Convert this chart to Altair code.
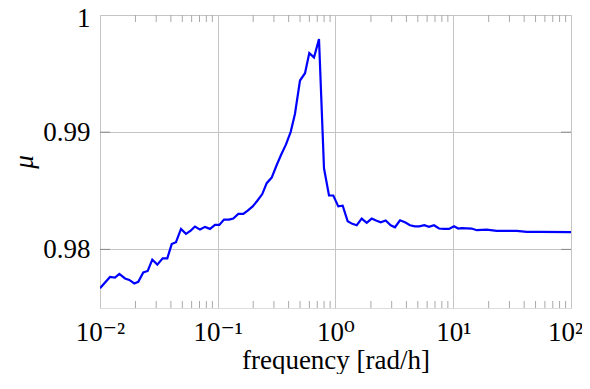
import altair as alt
import pandas as pd

# frequency [rad/h] and mu values
freq = [0.01000, 0.01216, 0.01341, 0.01459, 0.01631, 0.01774, 0.01955, 0.02114, 0.02331, 0.02542,
        0.02780, 0.03066, 0.03407, 0.03729, 0.04064, 0.04419, 0.04874, 0.05375, 0.05892, 0.06408,
        0.07067, 0.07793, 0.08594, 0.09476, 0.1031, 0.1130, 0.1246, 0.1355, 0.1495, 0.1648,
        0.1796, 0.1980, 0.2168, 0.2389, 0.2604, 0.2872, 0.3167, 0.3445, 0.3799, 0.4164,
        0.4529, 0.4994, 0.5508, 0.5990, 0.6568, 0.7242, 0.7986, 0.8806, 0.9579, 1.056,
        1.151, 1.269, 1.389, 1.514, 1.669, 1.841, 2.029, 2.208, 2.421, 2.669,
        2.943, 3.201, 3.530, 3.893, 4.292, 4.733, 5.149, 5.677, 6.225, 6.864,
        7.568, 8.346, 9.203, 10.15, 11.04, 11.80, 14.35, 15.82, 19.24, 23.39,
        30.34, 34.58, 42.06, 54.55, 98.06, 100.0]
mu = [0.97669, 0.97765, 0.97760, 0.97791, 0.97752, 0.97740, 0.97709, 0.97723, 0.97803, 0.97816,
      0.97913, 0.97870, 0.97924, 0.97924, 0.98045, 0.98062, 0.98175, 0.98133, 0.98161, 0.98195,
      0.98169, 0.98192, 0.98175, 0.98209, 0.98209, 0.98254, 0.98254, 0.98263, 0.98303, 0.98303,
      0.98331, 0.98367, 0.98415, 0.98472, 0.98565, 0.98613, 0.98720, 0.98805, 0.98896, 0.99003,
      0.99158, 0.99441, 0.99503, 0.99675, 0.99638, 0.99794, 0.98692, 0.98460, 0.98460, 0.98367,
      0.98373, 0.98240, 0.98218, 0.98206, 0.98263, 0.98226, 0.98263, 0.98246, 0.98231, 0.98246,
      0.98206, 0.98189, 0.98248, 0.98231, 0.98206, 0.98197, 0.98197, 0.98206, 0.98192, 0.98206,
      0.98178, 0.98175, 0.98175, 0.98197, 0.98178, 0.98181, 0.98178, 0.98164, 0.98169, 0.98158,
      0.98158, 0.98158, 0.98150, 0.98150, 0.98147, 0.98147]

x_tick_values = [0.01, 0.1, 1, 10, 100]
x_tick_labels = ["10⁻²", "10⁻¹", "10⁰", "10¹", "10²"]
y_tick_values = [0.98, 0.99, 1.0]
y_tick_labels = ["0.98", "0.99", "1"]
x_minor = [m * d for d in [0.01, 0.1, 1, 10] for m in range(2, 10)]

FONT = "'Liberation Serif', 'Times New Roman', 'DejaVu Serif', serif"
FS = 27
W, H = 471, 293

df = pd.DataFrame({"freq": freq, "mu": mu})
minor_df = pd.DataFrame({"v": x_minor})
ymaj_df = pd.DataFrame({"v": y_tick_values[:-1]})

xlabel_expr = " : ".join(
    f"datum.value < {v * 3} ? '{l}'" for v, l in zip(x_tick_values[:-1], x_tick_labels[:-1])
) + f" : '{x_tick_labels[-1]}'"
ylabel_expr = " : ".join(
    f"datum.value < {v + 0.005} ? '{l}'" for v, l in zip(y_tick_values[:-1], y_tick_labels[:-1])
) + f" : '{y_tick_labels[-1]}'"

xscale = alt.Scale(type="log", domain=[0.01, 100], nice=False)
yscale = alt.Scale(domain=[0.975, 1.0], nice=False, zero=False)

line = alt.Chart(df).mark_line(color="#0000ff", strokeWidth=2.2, clip=True).encode(
    x=alt.X("freq:Q", scale=xscale,
            axis=alt.Axis(values=x_tick_values, labelExpr=xlabel_expr, ticks=False, tickSize=0,
                          domain=False, grid=True, gridColor="#c4c4c4", gridWidth=1,
                          labelFont=FONT, labelFontSize=FS, labelColor="black",
                          labelBaseline="alphabetic", labelPadding=32, labelFlush=False,
                          labelOffset={"condition": {"test": "datum.value >= 50", "value": -6},
                                       "value": 0},
                          labelOverlap=False, title="frequency [rad/h]", titleFont=FONT,
                          titleFontSize=FS, titleFontWeight="normal", titleColor="black",
                          titleX=W / 2, titleY=60, titleBaseline="alphabetic")),
    y=alt.Y("mu:Q", scale=yscale,
            axis=alt.Axis(values=y_tick_values, labelExpr=ylabel_expr, ticks=False, tickSize=0,
                          domain=False, grid=True, gridColor="#c4c4c4", gridWidth=1,
                          labelFont=FONT, labelFontSize=FS, labelColor="black",
                          labelPadding=10, labelOverlap=False, labelFlush=False,
                          labelOffset={"condition": {"test": "datum.value > 0.995", "value": 3},
                                       "value": 0},
                          title="μ", titleFont=FONT, titleFontSize=FS, titleFontStyle="italic",
                          titleFontWeight="normal", titleColor="black", titleAngle=-90,
                          titleX=-76, titleY=H / 2, titleAlign="center",
                          titleBaseline="middle")),
)

tick_color = "#a8a8a8"
minor_bottom = alt.Chart(minor_df).mark_rule(color=tick_color, strokeWidth=1).encode(
    x=alt.X("v:Q", scale=xscale), y=alt.value(H - 7), y2=alt.value(H))
minor_top = alt.Chart(minor_df).mark_rule(color=tick_color, strokeWidth=1).encode(
    x=alt.X("v:Q", scale=xscale), y=alt.value(0), y2=alt.value(7))
ymaj_left = alt.Chart(ymaj_df).mark_rule(color="#888888", strokeWidth=1).encode(
    y=alt.Y("v:Q", scale=yscale), x=alt.value(0), x2=alt.value(10))
ymaj_right = alt.Chart(ymaj_df).mark_rule(color="#888888", strokeWidth=1).encode(
    y=alt.Y("v:Q", scale=yscale), x=alt.value(W - 10), x2=alt.value(W))

chart = alt.layer(minor_bottom, minor_top, ymaj_left, ymaj_right, line).properties(
    width=W, height=H,
    autosize=alt.AutoSizeParams(type="none"),
    padding={"left": 92, "top": 7, "right": 11, "bottom": 66},
).configure_view(stroke="black", strokeWidth=1.2).configure(background="white")

chart.save("out.html", embed_options={"renderer": "svg", "actions": False})
